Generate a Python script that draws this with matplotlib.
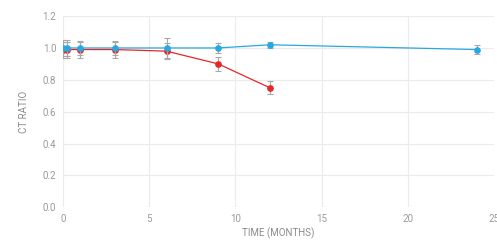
import matplotlib
matplotlib.use("Agg")
import matplotlib.pyplot as plt

# data
months_blue = [0, 0.25, 1, 3, 6, 9, 12, 24]
ratio_blue = [1.00, 1.00, 1.00, 1.00, 1.00, 1.00, 1.02, 0.99]
err_blue = [0.05, 0.05, 0.045, 0.045, 0.06, 0.03, 0.02, 0.03]

months_red = [0, 0.25, 1, 3, 6, 9, 12]
ratio_red = [0.99, 0.99, 0.99, 0.99, 0.98, 0.90, 0.75]
err_red = [0.05, 0.05, 0.05, 0.05, 0.05, 0.045, 0.04]

x_ticks = [0, 5, 10, 15, 20, 25]
y_ticks = [0.0, 0.2, 0.4, 0.6, 0.8, 1.0, 1.2]

plt.rcParams['font.family'] = ['Roboto', 'DejaVu Sans']

fig = plt.figure(figsize=(4.97, 2.4), dpi=100)
ax = fig.add_axes([0.127, 0.136, 0.867, 0.797])

err_style = dict(ecolor='#a8a8a8', elinewidth=0.8, capsize=2.2, capthick=0.8)
ax.errorbar(months_red, ratio_red, yerr=err_red, color='#e8262a', lw=0.9,
            marker='o', ms=3.8, zorder=3, **err_style)
ax.errorbar(months_blue, ratio_blue, yerr=err_blue, color='#29a8e0', lw=0.9,
            marker='o', ms=3.8, zorder=4, **err_style)

ax.set_xlim(0, 25)
ax.set_ylim(0, 1.2)
ax.set_xticks(x_ticks)
ax.set_yticks(y_ticks)
ax.set_yticklabels([f'{v:.1f}' for v in y_ticks])
ax.grid(True, color='#ebebeb', lw=0.8)
ax.set_axisbelow(True)
for s in ax.spines.values():
    s.set_visible(False)
ax.tick_params(length=0, labelsize=7, colors='#9a9a9a', pad=5)
ax.set_xlabel('TIME (MONTHS)', fontsize=7, color='#8a8a8a', labelpad=2)
ax.set_ylabel('CT RATIO', fontsize=7, color='#8a8a8a', labelpad=10)

fig.savefig('out.png', dpi=100)
